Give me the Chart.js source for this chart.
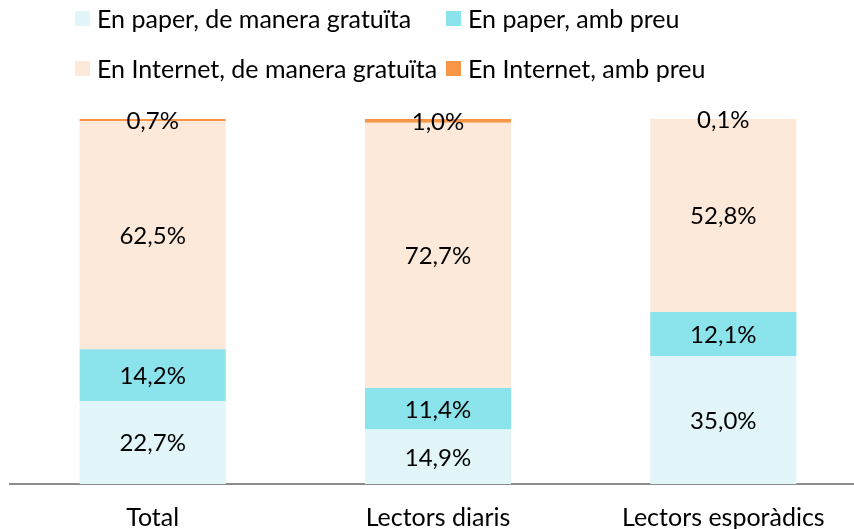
<!DOCTYPE html>
<html>
<head>
<meta charset="utf-8">
<script src="https://cdn.jsdelivr.net/npm/chart.js@4"></script>
<style>
  html, body { margin: 0; padding: 0; background: #fff; overflow: hidden; }
  #wrap { position: relative; width: 866px; height: 552px; }
  #legend { position: absolute; left: 75px; top: 0; font-family: Lato, sans-serif; font-size: 25px; color: #000; }
  .item { position: absolute; white-space: nowrap; display: flex; align-items: center; height: 30px; }
  .box { width: 15px; height: 15px; margin-right: 7px; }
</style>
</head>
<body>
<div id="wrap">
  <canvas id="grafic" width="866" height="552"></canvas>
  <div id="legend"></div>
</div>
<script>
const categories = ["Total", "Lectors diaris", "Lectors esporàdics"];
const seriesNames = [
    "En paper, de manera gratuïta",
    "En paper, amb preu",
    "En Internet, de manera gratuïta",
    "En Internet, amb preu"
];
const paperGratuita = [22.7, 14.9, 35.0];
const paperPreu = [14.2, 11.4, 12.1];
const internetGratuita = [62.5, 72.7, 52.8];
const internetPreu = [0.7, 1.0, 0.1];
const colors = ["#e2f6f9", "#8be3ec", "#fde9d9", "#f79646"];

const values = [paperGratuita, paperPreu, internetGratuita, internetPreu];

// etiquetes de dades al centre de cada segment
const etiquetes = {
    id: "etiquetes",
    afterDatasetsDraw(chart) {
        const ctx = chart.ctx;
        ctx.save();
        ctx.font = "24px Lato";
        ctx.fillStyle = "#000";
        ctx.textAlign = "center";
        ctx.textBaseline = "middle";
        chart.data.datasets.forEach((ds, i) => {
            chart.getDatasetMeta(i).data.forEach((bar, j) => {
                const v = ds.data[j];
                const y = (bar.y + bar.base) / 2;
                ctx.fillText(v.toFixed(1).replace(".", ",") + "%", bar.x, y + 1);
            });
        });
        ctx.restore();
    }
};

Chart.defaults.font.family = "Lato";
Chart.defaults.color = "#000";

const chart = new Chart(document.getElementById("grafic"), {
    type: "bar",
    data: {
        labels: categories,
        datasets: values.map((d, i) => ({
            label: seriesNames[i],
            data: d,
            backgroundColor: colors[i],
            borderWidth: 0,
            barPercentage: 1,
            categoryPercentage: 0.512
        }))
    },
    options: {
        responsive: false,
        animation: false,
        devicePixelRatio: 1,
        layout: { padding: { top: 119, left: 10, right: 0, bottom: 0 } },
        plugins: { legend: { display: false }, tooltip: { enabled: false } },
        scales: {
            x: {
                stacked: true,
                grid: { display: false, drawTicks: false },
                border: { color: "#8c8c8c", width: 2 },
                ticks: { font: { size: 25 }, padding: 19 }
            },
            y: {
                stacked: true,
                display: false,
                min: 0,
                max: 100
            }
        }
    },
    plugins: [etiquetes]
});

// llegenda en dues columnes
const legend = document.getElementById("legend");
const pos = [[0, 3], [371, 3], [0, 53], [371, 53]];
chart.data.datasets.forEach((ds, i) => {
    const el = document.createElement("div");
    el.className = "item";
    el.style.left = pos[i][0] + "px";
    el.style.top = pos[i][1] + "px";
    el.innerHTML = `<span class="box" style="background:${ds.backgroundColor}"></span><span>${ds.label}</span>`;
    legend.appendChild(el);
});
</script>
</body>
</html>
